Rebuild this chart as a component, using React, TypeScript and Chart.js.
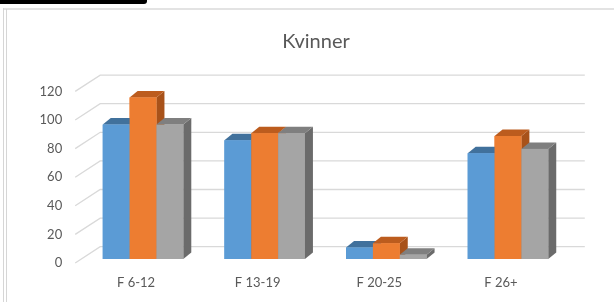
import React, { useEffect, useRef } from "react";
import { Chart, registerables } from "chart.js";
Chart.register(...registerables);

const titleText = "Kvinner";
const categories = ["F 6-12", "F 13-19", "F 20-25", "F 26+"];
const seriesBlue = [94, 83, 8, 74];
const seriesOrange = [113, 88, 11, 86];
const seriesGray = [94, 88, 3, 77];
const yTicks = [0, 20, 40, 60, 80, 100, 120];

const frontColors = ["#5B9BD5", "#ED7D31", "#A5A5A5"];
const topColors = ["#41719C", "#BC5C1E", "#7F7F7F"];
const sideColors = ["#3B6892", "#A8521A", "#6B6B6B"];

const BAR_DX = 8;
const BAR_DY = 6.5;

const threeD = {
  id: "threeD",
  beforeDatasetsDraw(chart: any) {
    const { ctx, chartArea, scales } = chart;
    const y = scales.y;
    ctx.save();
    ctx.strokeStyle = "#D9D9D9";
    ctx.lineWidth = 1.3;
    yTicks.forEach((v) => {
      const py = y.getPixelForValue(v);
      ctx.beginPath();
      ctx.moveTo(chartArea.left - 7, py + 4);
      ctx.lineTo(chartArea.left + 18, py - 12.3);
      ctx.lineTo(chartArea.right + 16, py - 12.3);
      ctx.stroke();
    });
    ctx.restore();
  },
  afterDatasetsDraw(chart: any) {
    const { ctx } = chart;
    ctx.save();
    const n = chart.data.datasets.length;
    const cats = chart.data.labels.length;
    for (let c = 0; c < cats; c++) {
      for (let i = 0; i < n; i++) {
        const bar: any = chart.getDatasetMeta(i).data[c];
        if (!bar) continue;
        const { x, y, base, width } = bar.getProps(["x", "y", "base", "width"], true);
        const L = x - width / 2;
        const R = x + width / 2;
        ctx.fillStyle = sideColors[i];
        ctx.beginPath();
        ctx.moveTo(R, y);
        ctx.lineTo(R + BAR_DX, y - BAR_DY);
        ctx.lineTo(R + BAR_DX, base - BAR_DY);
        ctx.lineTo(R, base);
        ctx.closePath();
        ctx.fill();
        ctx.fillStyle = topColors[i];
        ctx.beginPath();
        ctx.moveTo(L, y);
        ctx.lineTo(R, y);
        ctx.lineTo(R + BAR_DX, y - BAR_DY);
        ctx.lineTo(L + BAR_DX, y - BAR_DY);
        ctx.closePath();
        ctx.fill();
        ctx.fillStyle = frontColors[i];
        ctx.fillRect(L, y, width, base - y);
      }
    }
    ctx.restore();
  },
};

export default function App() {
  const ref = useRef<HTMLCanvasElement>(null);
  useEffect(() => {
    const canvas = ref.current;
    if (!canvas) return;
    const chart = new Chart(canvas, {
      type: "bar",
      data: {
        labels: categories,
        datasets: [
          { label: "A", data: seriesBlue, backgroundColor: frontColors[0] },
          { label: "B", data: seriesOrange, backgroundColor: frontColors[1] },
          { label: "C", data: seriesGray, backgroundColor: frontColors[2] },
        ],
      },
      options: {
        animation: false,
        responsive: false,
        devicePixelRatio: 1,
        layout: { padding: { left: 0, right: 45.2, top: 87.4, bottom: 0 } },
        datasets: { bar: { categoryPercentage: 0.662, barPercentage: 1, borderWidth: 0 } },
        plugins: {
          legend: { display: false },
          tooltip: { enabled: false },
          title: { display: false },
        },
        scales: {
          x: {
            grid: { display: false, drawTicks: false },
            border: { display: false },
            ticks: {
              color: "#595959",
              font: { family: "Lato", size: 13 },
              padding: 16,
              labelOffset: -7,
            },
            afterFit: (s: any) => {
              s.height = 43;
            },
          },
          y: {
            min: 0,
            max: 120,
            grid: { display: false, drawTicks: false },
            border: { display: false },
            ticks: {
              stepSize: 20,
              color: "#595959",
              font: { family: "Lato", size: 13 },
              padding: 20,
              labelOffset: 4,
            },
            afterFit: (s: any) => {
              s.width = 82.2;
            },
          },
        },
      },
      plugins: [threeD],
    });
    return () => chart.destroy();
  }, []);

  return (
    <div style={{ position: "fixed", left: 0, top: 0, width: 614, height: 302, background: "#fff", overflow: "hidden" }}>
      <div style={{ position: "absolute", left: 0, top: 0, width: 147, height: 4, background: "#000", borderBottomRightRadius: 3 }} />
      <div style={{ position: "absolute", left: 3, top: 8, right: 0, height: 2, background: "#E3E3E3" }} />
      <div style={{ position: "absolute", left: 3, top: 8, bottom: 0, width: 1, background: "#D6D6D6" }} />
      <div style={{ position: "absolute", left: 6, top: 9, bottom: 0, width: 1, background: "#D6D6D6" }} />
      <canvas ref={ref} width={614} height={302} style={{ position: "absolute", left: 0, top: 0, width: 614, height: 302 }} />
      <div
        style={{
          position: "absolute",
          left: 216,
          width: 200,
          top: 28,
          textAlign: "center",
          fontFamily: "Lato",
          fontSize: 20,
          lineHeight: "24px",
          color: "#595959",
          whiteSpace: "nowrap",
        }}
      >
        {titleText}
      </div>
    </div>
  );
}
